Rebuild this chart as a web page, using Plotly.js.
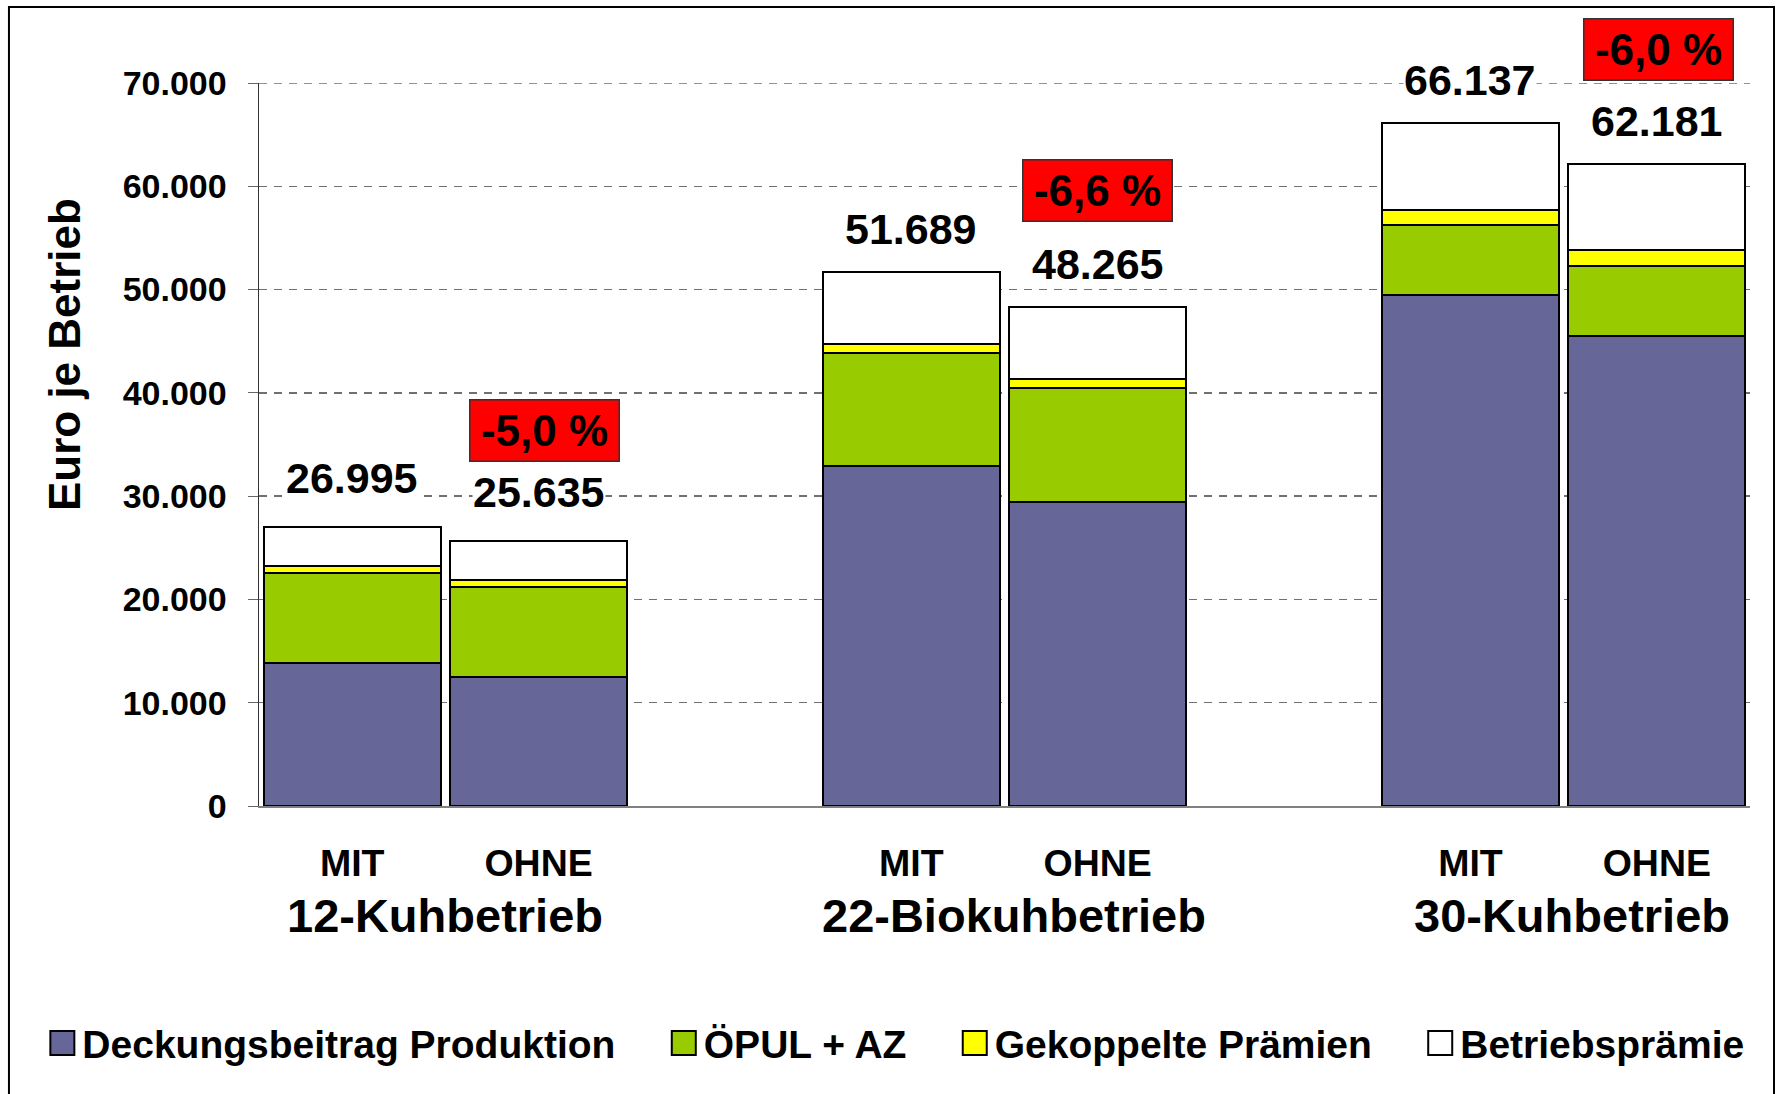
<!DOCTYPE html>
<html>
<head>
<meta charset="utf-8">
<script src="https://cdn.plot.ly/plotly-3.0.1.min.js"></script>
<style>
  html, body { margin: 0; padding: 0; background: #fff; }
  #chart { width: 1776px; height: 1094px; }
</style>
</head>
<body>
<div id="chart"></div>
<script>
"use strict";

// bar slots: MIT, OHNE, (gap), MIT, OHNE, (gap), MIT, OHNE
var slots    = [0, 1, 2, 3, 4, 5, 6, 7];
var barNames = ['MIT', 'OHNE', '', 'MIT', 'OHNE', '', 'MIT', 'OHNE'];
var groups   = ['12-Kuhbetrieb', '22-Biokuhbetrieb', '30-Kuhbetrieb'];

// stacked components, Euro je Betrieb
var deckungsbeitrag = [13800, 12450, null, 32900, 29450, null, 49450, 45500];
var oepulAz         = [ 8800,  8800, null, 11000, 11050, null,  6800,  6800];
var gekoppelt       = [  600,   620, null,   850,   850, null,  1500,  1500];
var betriebspraemie = [ 3795,  3765, null,  6939,  6915, null,  8387,  8381];

// totals printed above the bars and the change labels
var totals   = [26995, 25635, null, 51689, 48265, null, 66137, 62181];
var changes  = ['-5,0 %', '-6,6 %', '-6,0 %'];

var FONT = 'Liberation Sans, Arial, sans-serif';
var NBSP = '\u00a0\u00a0\u00a0\u00a0';

function fmt(v){
	return String(v).replace(/\B(?=(\d{3})+(?!\d))/g, '.');
}

function barTrace(name, vals, color){
	return {
		type: 'bar',
		name: name,
		x: slots,
		y: vals,
		marker: { color: color, line: { color: '#000', width: 2 } },
		hoverinfo: 'y+name'
	};
}

var data = [
	barTrace('Deckungsbeitrag Produktion' + NBSP, deckungsbeitrag, '#666699'),
	barTrace('ÖPUL + AZ' + NBSP, oepulAz, '#99cc00'),
	barTrace('Gekoppelte Prämien' + NBSP, gekoppelt, '#ffff00'),
	barTrace('Betriebsprämie', betriebspraemie, '#ffffff')
];

var annotations = [];

// totals above each bar
totals.forEach(function(t, i){
	if(t === null) return;
	annotations.push({
		x: slots[i], y: t, xref: 'x', yref: 'y',
		text: fmt(t), showarrow: false,
		yanchor: 'bottom', yshift: i < 2 ? 24 : 18,
		bgcolor: '#fff', borderpad: 0,
		font: { family: FONT, size: 43, color: '#000', weight: 'bold' }
	});
});

// red change boxes above the OHNE bars (y as fraction of plot height)
var pctSlot  = [1, 4, 7];
var pctY     = [0.52, 0.851, 1.047];
var pctShift = [6, 0, 2];
changes.forEach(function(c, i){
	annotations.push({
		x: pctSlot[i], y: pctY[i], xref: 'x', yref: 'paper',
		xshift: pctShift[i], yanchor: 'middle',
		text: c, showarrow: false,
		width: 140, height: 52, borderpad: 4,
		bgcolor: '#ff0000', bordercolor: '#333', borderwidth: 1.5,
		font: { family: FONT, size: 44, color: '#000', weight: 'bold' }
	});
});

// group names below the MIT/OHNE labels
var groupShift = [0, 9, 8];
groups.forEach(function(g, i){
	annotations.push({
		x: 0.5 + 3 * i, y: -0.151, xref: 'x', yref: 'paper',
		xshift: groupShift[i],
		text: g, showarrow: false, yanchor: 'middle',
		font: { family: FONT, size: 47, color: '#000', weight: 'bold' }
	});
});

// y axis title, placed like the original (above the plot middle)
annotations.push({
	x: -0.1304, y: 0.6245, xref: 'paper', yref: 'paper',
	text: 'Euro je Betrieb', textangle: -90, showarrow: false,
	xanchor: 'center', yanchor: 'middle',
	font: { family: FONT, size: 44, color: '#000', weight: 'bold' }
});

var tickIdx = [0, 1, 3, 4, 6, 7];

var layout = {
	width: 1776,
	height: 1094,
	margin: { l: 259, r: 26, t: 83, b: 288 },
	paper_bgcolor: '#fff',
	plot_bgcolor: '#fff',
	barmode: 'stack',
	bargap: 0.05,
	separators: ',.',
	font: { family: FONT, color: '#000' },
	showlegend: true,
	legend: {
		orientation: 'h',
		x: -0.1453, xanchor: 'left',
		y: -0.328, yanchor: 'middle',
		traceorder: 'normal',
		font: { family: FONT, size: 39, color: '#000', weight: 'bold' }
	},
	xaxis: {
		type: 'linear',
		range: [-0.5, 7.5],
		tickvals: tickIdx.map(function(i){ return slots[i]; }),
		ticktext: tickIdx.map(function(i){ return barNames[i]; }),
		ticks: '',
		ticklabelstandoff: 23,
		tickfont: { family: FONT, size: 37.5, color: '#000', weight: 'bold' },
		showgrid: false,
		zeroline: false,
		showline: true,
		linecolor: '#808080',
		linewidth: 1.5,
		fixedrange: true
	},
	yaxis: {
		range: [0, 70000],
		dtick: 10000,
		tickformat: ',d',
		ticks: 'outside',
		ticklen: 10,
		tickcolor: '#666',
		ticklabelstandoff: 14,
		tickfont: { family: FONT, size: 34, color: '#000', weight: 'bold' },
		showgrid: true,
		gridcolor: '#707070',
		gridwidth: 1.5,
		griddash: '8px,7px',
		zeroline: false,
		showline: true,
		linecolor: '#333',
		linewidth: 1.5,
		fixedrange: true
	},
	annotations: annotations,
	shapes: [{
		// outer frame of the chart
		type: 'rect', xref: 'paper', yref: 'paper',
		x0: -0.1677, x1: 1.0161, y0: -0.42, y1: 1.105,
		line: { color: '#000', width: 2 },
		fillcolor: 'rgba(0,0,0,0)',
		layer: 'below'
	}, {
		// top gridline at the range edge (plotly leaves it out)
		type: 'line', xref: 'paper', yref: 'y',
		x0: 0, x1: 1, y0: 70000, y1: 70000,
		line: { color: '#707070', width: 1.5, dash: '8px,7px' },
		layer: 'below'
	}]
};

Plotly.newPlot('chart', data, layout, { displayModeBar: false, staticPlot: true }).then(function(gd){
	// larger legend swatches as in the original
	gd.querySelectorAll('.legendpoints path').forEach(function(p){
		p.setAttribute('d', 'M12,12H-12V-12H12Z');
	});
});
</script>
</body>
</html>
